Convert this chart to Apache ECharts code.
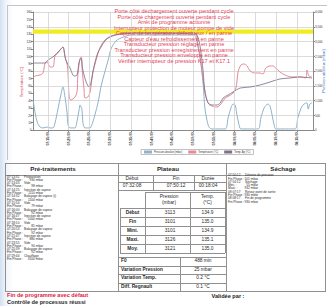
<!DOCTYPE html>
<html><head><meta charset="utf-8">
<script src="https://cdn.jsdelivr.net/npm/echarts@6/dist/echarts.min.js"></script>
<style>
html,body{margin:0;padding:0;background:#fff;}
#wrap{position:relative;width:327px;height:306px;overflow:hidden;background:#fff;font-family:"Liberation Sans",Arial,sans-serif;}
#chart{position:absolute;left:0;top:0;width:327px;height:306px;}
#tbl{position:absolute;left:0;top:0;width:327px;height:306px;}
.t{position:absolute;white-space:nowrap;line-height:1;color:#2a2a2a;}
.hl{position:absolute;height:0;border-top:1px solid #909090;}
.vl{position:absolute;width:0;border-left:1px solid #909090;}
</style></head>
<body><div id="wrap"><div id="tint"></div><div id="chart"></div><div id="tbl"></div></div>
<script>
// ---------- chart data (minutes after 07:00) ----------
const xTicks = [15,20,25,30,35,40,45,50,55,60,65,70,75];
const pressTime = [11.4,11.9,12.4,13.1,13.8,14.8,15.5,16.2,16.7,17.4,18.1,18.6,19.1,19.6,19.8,20.3,21.5,22.0,22.5,22.7,23.2,23.4,23.9,25.1,25.8,26.3,27.1,27.8,28.7,29.5,30.2,31.4,33.1,35.0,50.2,50.9,51.6,52.4,52.8,53.3,53.8,54.5,57.7,58.4,59.1,59.6,60.1,60.5,61.0,61.5,65.6,66.3,67.1,68.0,68.5,69.0,69.5,69.9,74.5,75.2,76.0,76.7,77.4,77.7,78.1,78.6];
const pressVal  = [1020,580,270,100,70,100,70,70,240,710,1190,1460,1120,580,200,70,70,300,680,850,680,270,70,70,270,510,950,1490,1970,2370,2750,3020,3150,3220,3220,2980,2540,1530,750,340,100,35,35,410,750,880,850,540,200,35,35,410,750,880,810,510,170,35,35,410,750,880,920,710,880,920];
const tempTime = [11.4,11.9,13.1,13.8,14.3,14.8,15.5,16.2,16.7,17.4,18.1,18.6,19.1,19.6,19.8,20.1,20.5,21.5,22.0,22.2,22.7,23.0,23.2,23.7,23.9,24.6,25.1,25.4,25.8,26.6,27.5,28.7,30.2,31.9,34.0,50.4,51.1,51.9,52.6,53.3,54.0,55.7,56.7,57.7,58.6,59.6,60.3,60.8,61.5,62.2,63.0,63.7,64.9,66.1,66.8,67.5,68.5,69.2,69.9,70.9,72.1,73.8,75.7,77.2,77.4,77.9,78.6];
const tempVal  = [70.5,73.2,74.6,77.3,90.8,92.2,85.4,85.4,100.3,104.4,109.8,112.5,99.0,89.5,81.4,44.7,40.7,44.7,51.5,74.6,96.3,99.0,84.1,54.2,43.4,44.7,50.2,61.0,77.3,94.9,111.2,122.0,127.5,130.2,131.5,130.2,115.3,88.1,61.0,40.7,33.9,31.2,35.3,43.4,46.1,50.2,56.9,78.6,88.1,89.5,86.8,80.0,77.3,77.3,75.9,84.1,86.8,86.8,84.1,78.6,74.6,71.9,71.9,70.5,81.4,73.2,71.9];
const temp2Time = [11.4,14.3,15.0,16.2,17.2,17.9,18.6,19.3,20.3,21.3,22.0,22.5,23.0,23.4,24.2,24.9,25.4,25.8,26.6,27.1,27.8,28.7,29.9,31.4,32.8,36.0,50.2,50.9,51.6,52.4,52.8,53.6,54.5,55.7,56.5,57.2,58.4,59.6,61.3,63.7,66.1,68.5,70.9,73.3,75.7,78.6];
const temp2Val  = [90.8,90.8,94.9,99.0,104.4,108.5,112.5,94.9,84.1,73.2,74.6,92.2,97.6,81.4,65.1,58.3,65.1,78.6,97.6,105.8,112.5,120.7,126.1,128.8,130.2,131.5,131.5,128.8,115.3,78.6,51.5,36.6,33.9,33.9,36.6,43.4,47.5,51.5,56.9,58.3,61.0,65.1,69.2,70.5,71.9,70.5];
const seriesNames = ['Pression absolue (mbar)','Température (°C)','Temp. Ap (°C)'];
const plateauBand = [130.5, 136.2];
const alarmLines = [
 'Porte côté déchargement ouverte pendant cycle',
 'Porte côté chargement ouverte pendant cycle',
 'Arrêt de programme actionné',
 'Interrupteur protection de moteur pompe de vide',
 'Capteur de température défectueux / en panne',
 'Capteur d\'eau refroidissement en panne',
 'Transducteur pression réglage en panne',
 'Transducteur pression enregistrement en panne',
 'Transducteur pression enveloppe en panne',
 'Vérifier interrupteur de pression K17 et K17.1'
];
// ---------- table data ----------
const preSteps = [
 ['07:13:31','Préparation','930'],
 ['07:13:43','Vide','98'],
 ['07:14:25','Injection de vapeur','1110'],
 ['07:14:32','Balayage de vapeur (i)','1100'],
 ['07:15:54','Vide','79'],
 ['07:16:00','Balayage de vapeur','92'],
 ['07:16:47','Injection de vapeur','1000'],
 ['07:18:10','Vide','81'],
 ['07:20:53','Balayage de vapeur','92'],
 ['07:21:47','Injection de vapeur','880'],
 ['07:23:55','Vide','90'],
 ['07:25:39','Balayage de vapeur','92'],
 ['07:29:44','Chauffage','3100']
];
const plateauHead = ['Début','Fin','Durée'];
const plateauTimes = ['07:32:08','07:50:12','00:18:04'];
const statHead = ['Pression\n(mbar)','Temp.\n(°C)'];
const statRows = ['Début','Fin','Mini.','Maxi.','Moy.'];
const statPress = ['3113','3101','3101','3126','3121'];
const statTemp = ['134.9','135.0','134.9','135.1','135.0'];
const resLabels = ['F0','Variation Pression','Variation Temp.','Diff. Regnault'];
const resValues = ['488 min','25 mbar','0.2 °C','0.1 °C'];
const sechLines = [
 ['07:50:12','Détente de pression'],
 ['Fin Phase :','101 mbar'],
 ['07:54:12','Séchage'],
 ['Mini. :','55 mbar'],
 ['Maxi. :','932 mbar'],
 ['08:07:17','Retour point de sortie'],
 ['Fin Phase :','930 mbar'],
 ['08:08:17','Fin de programme'],
 ['Fin Phase :','930 mbar']
];
const footRed = 'Fin de programme avec défaut';
const footBlack = 'Contrôle de processus réussi';
const footSign = 'Validée par :';

// ---------- chart ----------
const zip = (a,b) => a.map((v,i)=>[v,b[i]]);
const fmt = v => { const m = 7*60 + Math.round(v); const h = Math.floor(m/60), mm = m%60; return String(h).padStart(2,'0')+':'+String(mm).padStart(2,'0')+':00'; };
const chart = echarts.init(document.getElementById('chart'), null, {renderer:'svg'});
const FONT = '"Liberation Sans", Arial, sans-serif';
chart.setOption({
  animation:false,
  textStyle:{fontFamily:FONT},
  grid:{left:33, right:14, top:12, bottom:176, containLabel:false},
  legend:{data:seriesNames, left:141, top:149.5, icon:'rect', itemWidth:8, itemHeight:3, itemGap:6,
    padding:[1,3], borderColor:'#999', borderWidth:0.6, textStyle:{fontSize:2.6, color:'#333', padding:[0,0,0,-3]}},
  xAxis:{type:'value', min:11.39, max:78.86,
    axisLine:{lineStyle:{color:'#8a8a8a',width:1}},
    axisTick:{show:true, customValues:xTicks, length:2, lineStyle:{color:'#8a8a8a'}},
    axisLabel:{customValues:xTicks, rotate:90, fontSize:3.4, margin:2, color:'#222', fontWeight:'bold', formatter:fmt},
    splitLine:{show:false}},
  yAxis:[
    {type:'value', min:0, max:160, interval:10, position:'left',
     axisLine:{show:true,lineStyle:{color:'#8a8a8a'}}, axisTick:{show:true,length:2,lineStyle:{color:'#8a8a8a'}},
     axisLabel:{fontSize:3, margin:1.5, color:'#333'}, splitLine:{show:false}},
    {type:'value', min:0, max:4000, interval:500, position:'right',
     axisLine:{show:true,lineStyle:{color:'#8a8a8a'}}, axisTick:{show:true,length:2,lineStyle:{color:'#8a8a8a'}},
     axisLabel:{fontSize:3, margin:2, color:'#333'}, splitLine:{show:true,lineStyle:{color:'#d2d2d2',width:0.8}}}
  ],
  series:[
    {type:'line', data:[], z:1, silent:true,
     markLine:{silent:true, symbol:['none','none'], label:{show:false},
       lineStyle:{color:'#d2d2d2', type:'solid', width:0.8},
       data: xTicks.map(v=>({xAxis:v}))}},
    {type:'line', data:[], z:1, silent:true,
     markArea:{silent:true, itemStyle:{color:'#f3ec1c', opacity:1},
       data:[[{yAxis:plateauBand[0]},{yAxis:plateauBand[1]}]]}},
    {name:seriesNames[0], type:'line', yAxisIndex:1, data:zip(pressTime,pressVal), showSymbol:false, smooth:0.3,
     lineStyle:{color:'#8fb2c9', width:1}, itemStyle:{color:'#8fb2c9'}},
    {name:seriesNames[1], type:'line', yAxisIndex:0, data:zip(tempTime,tempVal), showSymbol:false, smooth:0.3,
     lineStyle:{color:'#e5899a', width:1}, itemStyle:{color:'#e5899a'}},
    {name:seriesNames[2], type:'line', yAxisIndex:0, data:zip(temp2Time,temp2Val), showSymbol:false, smooth:0.3,
     lineStyle:{color:'#7d7189', width:0.85}, itemStyle:{color:'#7d7189'}}
  ],
  graphic:[
    {type:'text', x:174, y:8.3, z:50, style:{text:alarmLines.join('\n'), fill:'#e4405a', fontSize:5.6, fontFamily:FONT,
      textAlign:'center', textVerticalAlign:'top', lineHeight:5.55}},
    {type:'text', x:21, y:82, rotation:Math.PI/2, z:50, style:{text:'Température (°C)', fill:'#d8344f', fontSize:4, fontFamily:FONT,
      textAlign:'center', textVerticalAlign:'middle'}},
    {type:'text', x:323, y:71, rotation:Math.PI/2, z:50, style:{text:'Pression absolue (mbar)', fill:'#3b6db3', fontSize:4, fontFamily:FONT,
      textAlign:'center', textVerticalAlign:'middle'}}
  ]
});

// ---------- decorations & table (HTML) ----------
const tbl = document.getElementById('tbl');
function T(x,y,s,size,o){o=o||{};const d=document.createElement('div');d.className='t';d.textContent=s;
  d.style.left=x+'px';d.style.top=y+'px';d.style.fontSize=size+'px';
  const a=o.a||'l';const tx=a==='c'?'-50%':(a==='r'?'-100%':'0');d.style.transform='translate('+tx+',-50%)';
  if(o.b)d.style.fontWeight='bold';if(o.c)d.style.color=o.c;if(o.lh){d.style.lineHeight=o.lh;d.style.whiteSpace='pre';d.style.textAlign='center';}
  tbl.appendChild(d);return d;}
function H(x1,x2,y,c){const d=document.createElement('div');d.className='hl';d.style.left=x1+'px';d.style.top=y+'px';d.style.width=(x2-x1)+'px';if(c)d.style.borderTopColor=c;tbl.appendChild(d);}
function V(x,y1,y2,c){const d=document.createElement('div');d.className='vl';d.style.left=x+'px';d.style.top=y1+'px';d.style.height=(y2-y1)+'px';if(c)d.style.borderLeftColor=c;tbl.appendChild(d);}

// scan tint + chart frame
const tint=document.getElementById('tint');
tint.style.cssText='position:absolute;left:0;top:0;width:327px;height:306px;background:linear-gradient(90deg,rgba(196,214,238,0.75) 0px,rgba(220,232,246,0.4) 6px,rgba(255,255,255,0) 14px);';
H(7,327,5,'#c4c4c4'); V(7,5,160,'#c4c4c4');

// table frame
H(5,326,163); H(5,326,175); H(5,326,291);
V(5,163,291); V(118,163,291); V(226,163,291); V(325,163,291);
T(53,169,'Pré-traitements',6.2,{a:'c',b:true});
T(168,169,'Plateau',6.2,{a:'c',b:true});
T(283,169,'Séchage',6.2,{a:'c',b:true});

// pre-treatment list
let yy=177.5;const step=3.3;
preSteps.forEach(s=>{
  T(7,yy,s[0],3.2); T(24,yy,s[1],3.2); yy+=step;
  T(7,yy,'Fin Phase :',3.2); T(43,yy,s[2]+' mbar',3.2,{a:'r'}); yy+=step;
});

// plateau: start / end / duration
H(118,226,182); H(118,226,190);
V(153,175,190); V(194,175,190);
const pc=[132,176,208];
plateauHead.forEach((s,i)=>T(pc[i],178.6,s,4.8,{a:'c'}));
plateauTimes.forEach((s,i)=>T(pc[i],186.2,s,4.8,{a:'c'}));

// plateau stats
H(145,225,192); H(120,225,208);
for(let i=1;i<=5;i++) H(120,225,208+i*9);
V(145,192,253); V(190,192,253); V(225,192,253); V(120,208,253);
T(169,200,statHead[0],4.8,{a:'c',lh:'6px'});
T(207.5,200,statHead[1],4.8,{a:'c',lh:'6px'});
statRows.forEach((s,i)=>{const y=212.5+i*9;
  T(132.5,y,s,4.8,{a:'c',b:true}); T(170,y,statPress[i],4.8,{a:'c'}); T(207.5,y,statTemp[i],4.8,{a:'c'});});

// plateau results
const ry=[257,265.5,274,282.5];
ry.forEach(y=>H(118,226,y));
V(180,257,291);
resLabels.forEach((s,i)=>{const y=ry[i]+4.2; T(121,y,s,4.8,{b:true}); T(203,y,resValues[i],4.8,{a:'c'});});

// drying list
let ys=176.2;
sechLines.forEach(s=>{ if(s[0].startsWith('0')){T(228,ys,s[0],3.2);T(245,ys,s[1],3.2);} else {T(228,ys,s[0],3.2);T(258,ys,s[1],3.2,{a:'r'});} ys+=step;});

// footer
T(7,295.5,footRed,5.6,{b:true,c:'#e0203d'});
T(7,302.6,footBlack,5.6,{b:true,c:'#1e1e1e'});
T(228,297,footSign,5.6,{a:'c',b:true,c:'#1e1e1e'});
</script>
</body></html>
